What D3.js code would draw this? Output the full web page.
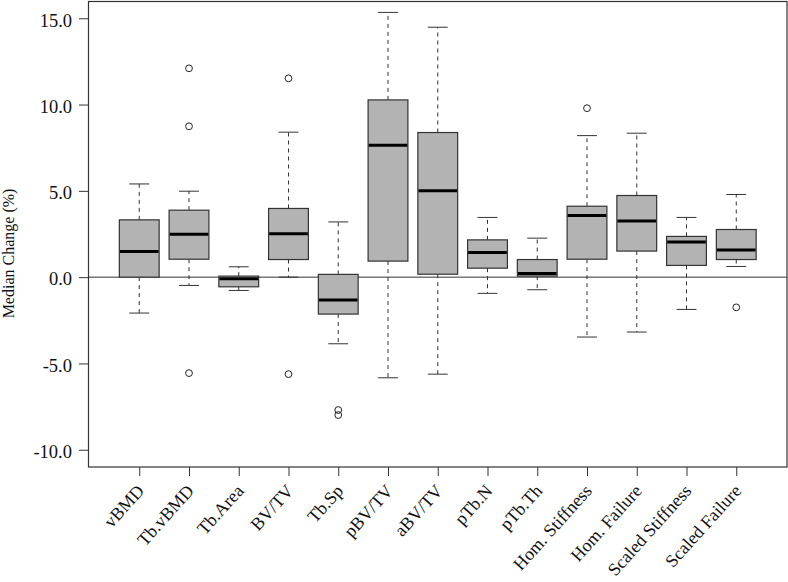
<!DOCTYPE html>
<html>
<head>
<meta charset="utf-8">
<script src="https://cdn.jsdelivr.net/npm/d3@7"></script>
<style>
  html, body { margin: 0; padding: 0; background: #fff; }
  svg { display: block; }
  text { font-family: "Liberation Serif", "Times New Roman", serif; fill: #111; }
</style>
</head>
<body>
<svg id="chart" width="788" height="582"></svg>
<script>
const categories = ["vBMD", "Tb.vBMD", "Tb.Area", "BV/TV", "Tb.Sp", "pBV/TV", "aBV/TV",
  "pTb.N", "pTb.Th", "Hom. Stiffness", "Hom. Failure", "Scaled Stiffness", "Scaled Failure"];
const whiskerLow  = [-2.08, -0.48, -0.77, 0.00, -3.86, -5.83, -5.62, -0.94, -0.73, -3.47, -3.18, -1.87, 0.62];
const q1          = [ 0.00,  1.04, -0.56, 1.02, -2.14,  0.93,  0.17,  0.52,  0.06,  1.04,  1.51,  0.68, 1.02];
const medians     = [ 1.49,  2.49, -0.10, 2.51, -1.33,  7.64,  5.00,  1.43,  0.21,  3.57,  3.26,  2.03, 1.58];
const q3          = [ 3.32,  3.88,  0.06, 3.98,  0.16, 10.27,  8.38,  2.16,  1.02,  4.11,  4.73,  2.36, 2.76];
const whiskerHigh = [ 5.40,  4.98,  0.60, 8.40,  3.20, 15.34, 14.48,  3.46,  2.26,  8.20,  8.34,  3.46, 4.79];
const outliers    = [[], [12.10, 8.74, -5.56], [], [11.52, -5.62], [-7.70, -7.99], [], [],
  [], [], [9.79], [], [], [-1.75]];
const yTicks = [-10, -5, 0, 5, 10, 15];
const yLabel = "Median Change (%)";

(function () {
const svg = d3.select("#chart");
const pLeft = 88.5, pRight = 787, pTop = 1.5, pBottom = 467;

const x = d3.scaleLinear().domain([-0.02, 14.02]).range([pLeft, pRight]);
const y = d3.scaleLinear().domain([-11, 16]).range([pBottom, pTop - 0.5]);
const boxW = x(0.8) - x(0);
const capW = x(0.4) - x(0);
const stroke = "#333";

const data = categories.map((c, i) => ({
  c, i: i + 1, lo: whiskerLow[i], q1: q1[i], med: medians[i], q3: q3[i], hi: whiskerHigh[i], out: outliers[i]
}));

// zero reference line
svg.append("line")
  .attr("x1", pLeft).attr("x2", pRight)
  .attr("y1", y(0)).attr("y2", y(0))
  .attr("stroke", stroke).attr("stroke-width", 1);

const g = svg.append("g");
const box = g.selectAll("g.box").data(data).join("g").attr("class", "box");

box.append("line")
  .attr("x1", d => x(d.i)).attr("x2", d => x(d.i))
  .attr("y1", d => y(d.q3)).attr("y2", d => y(d.hi))
  .attr("stroke", stroke).attr("stroke-dasharray", "4,4");
box.append("line")
  .attr("x1", d => x(d.i)).attr("x2", d => x(d.i))
  .attr("y1", d => y(d.q1)).attr("y2", d => y(d.lo))
  .attr("stroke", stroke).attr("stroke-dasharray", "4,4");
box.append("line")
  .attr("x1", d => x(d.i) - capW / 2).attr("x2", d => x(d.i) + capW / 2)
  .attr("y1", d => y(d.hi)).attr("y2", d => y(d.hi))
  .attr("stroke", stroke);
box.append("line")
  .attr("x1", d => x(d.i) - capW / 2).attr("x2", d => x(d.i) + capW / 2)
  .attr("y1", d => y(d.lo)).attr("y2", d => y(d.lo))
  .attr("stroke", stroke);
box.append("rect")
  .attr("x", d => x(d.i) - boxW / 2).attr("width", boxW)
  .attr("y", d => y(d.q3)).attr("height", d => y(d.q1) - y(d.q3))
  .attr("fill", "#b3b3b3").attr("stroke", stroke).attr("stroke-width", 1.2);
box.append("line")
  .attr("x1", d => x(d.i) - boxW / 2 + 0.6).attr("x2", d => x(d.i) + boxW / 2 - 0.6)
  .attr("y1", d => y(d.med)).attr("y2", d => y(d.med))
  .attr("stroke", "#000").attr("stroke-width", 3);
box.selectAll("circle").data(d => d.out.map(v => ({ i: d.i, v }))).join("circle")
  .attr("cx", d => x(d.i)).attr("cy", d => y(d.v)).attr("r", 3.4)
  .attr("fill", "none").attr("stroke", "#222").attr("stroke-width", 1);

// frame
svg.append("rect")
  .attr("x", pLeft).attr("y", pTop).attr("width", pRight - pLeft).attr("height", pBottom - pTop)
  .attr("fill", "none").attr("stroke", stroke).attr("stroke-width", 1.2);

// y axis
const fmt = v => (v < 0 ? "-" : "") + Math.abs(v).toFixed(1);
const yAxis = svg.append("g")
  .attr("transform", `translate(${pLeft},0)`)
  .call(d3.axisLeft(y).tickValues(yTicks).tickSize(9.5).tickPadding(7).tickFormat(fmt));
yAxis.select(".domain").remove();
yAxis.selectAll(".tick line").attr("stroke", stroke);
yAxis.selectAll(".tick text")
  .attr("font-size", 18.5).attr("font-family", "Liberation Serif")
  .attr("fill", "#111").attr("dy", "0.42em");

// x axis
const xAxis = svg.append("g")
  .attr("transform", `translate(0,${pBottom})`)
  .call(d3.axisBottom(x).tickValues(d3.range(1, categories.length + 1)).tickSize(9).tickFormat(() => ""));
xAxis.select(".domain").remove();
xAxis.selectAll(".tick line").attr("stroke", stroke);

svg.append("g").selectAll("text").data(data).join("text")
  .attr("transform", d => `translate(${x(d.i) + 6},${pBottom + 24.5}) rotate(-48)`)
  .attr("text-anchor", "end")
  .attr("font-size", 18)
  .text(d => d.c);

svg.append("text")
  .attr("transform", `translate(14,253.5) rotate(-90)`)
  .attr("text-anchor", "middle")
  .attr("font-size", 16)
  .text(yLabel);
})();
</script>
</body>
</html>
